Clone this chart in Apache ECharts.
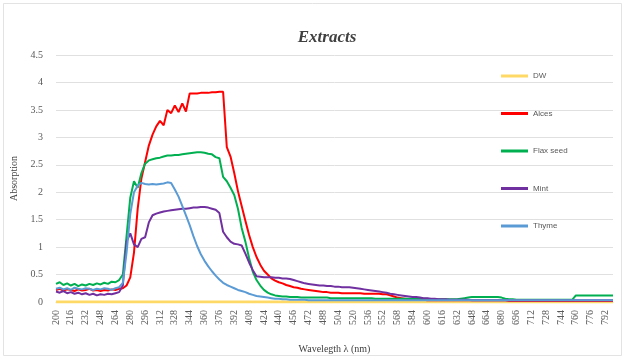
<!DOCTYPE html>
<html><head><meta charset="utf-8">
<script src="https://cdn.jsdelivr.net/npm/echarts@6/dist/echarts.min.js"></script>
<style>html,body{margin:0;padding:0;background:#fff}#c{width:626px;height:360px}</style>
</head><body><div id="c"></div>
<script>
const wavelengths = ["200","204","208","212","216","220","224","228","232","236","240","244","248","252","256","260","264","268","272","276","280","284","288","292","296","300","304","308","312","316","320","324","328","332","336","340","344","348","352","356","360","364","368","372","376","380","384","388","392","396","400","404","408","412","416","420","424","428","432","436","440","444","448","452","456","460","464","468","472","476","480","484","488","492","496","500","504","508","512","516","520","524","528","532","536","540","544","548","552","556","560","564","568","572","576","580","584","588","592","596","600","604","608","612","616","620","624","628","632","636","640","644","648","652","656","660","664","668","672","676","680","684","688","692","696","700","704","708","712","716","720","724","728","732","736","740","744","748","752","756","760","764","768","772","776","780","784","788","792","796","800"];

const seriesNames = ["DW","Alces","Flax seed","Mint","Thyme"];

const dw = [
0,0,0,0,0,0,0,0,0,0,
0,0,0,0,0,0,0,0,0,0,
0,0,0,0,0,0,0,0,0,0,
0,0,0,0,0,0,0,0,0,0,
0,0,0,0,0,0,0,0,0,0,
0,0,0,0,0,0,0,0,0,0,
0,0,0,0,0,0,0,0,0,0,
0,0,0,0,0,0,0,0,0,0,
0,0,0,0,0,0,0,0,0,0,
0,0,0,0,0,0,0,0,0,0,
0,0,0,0,0,0,0,0,0,0,
0,0,0,0,0,0,0,0,0,0,
0,0,0,0,0,0,0,0,0,0,
0,0,0,0,0,0,0,0,0,0,
0,0,0,0,0,0,0,0,0,0,
0];

const alces = [
0.22,0.24,0.21,0.23,0.22,0.20,0.23,0.21,0.22,0.24,
0.21,0.22,0.20,0.22,0.21,0.23,0.22,0.24,0.25,0.30,
0.45,0.90,1.70,2.25,2.55,2.85,3.05,3.20,3.30,3.22,
3.50,3.44,3.58,3.46,3.62,3.47,3.80,3.80,3.80,3.81,
3.81,3.81,3.82,3.82,3.83,3.83,2.82,2.65,2.35,2.02,
1.75,1.48,1.22,1.00,0.82,0.68,0.57,0.50,0.43,0.39,
0.36,0.34,0.31,0.29,0.27,0.26,0.24,0.23,0.22,0.21,
0.20,0.19,0.18,0.18,0.17,0.17,0.17,0.16,0.16,0.16,
0.16,0.16,0.16,0.15,0.15,0.15,0.15,0.15,0.14,0.14,
0.12,0.10,0.08,0.07,0.06,0.05,0.05,0.04,0.04,0.04,
0.03,0.03,0.03,0.03,0.03,0.03,0.03,0.03,0.03,0.03,
0.03,0.03,0.03,0.03,0.03,0.03,0.03,0.03,0.03,0.03,
0.03,0.03,0.02,0.02,0.02,0.02,0.02,0.02,0.02,0.02,
0.02,0.02,0.02,0.02,0.02,0.02,0.02,0.02,0.02,0.02,
0.02,0.02,0.02,0.02,0.02,0.02,0.02,0.02,0.02,0.02,
0.02];

const flaxSeed = [
0.33,0.36,0.31,0.34,0.30,0.33,0.29,0.32,0.30,0.33,
0.31,0.34,0.32,0.35,0.33,0.37,0.36,0.40,0.50,1.20,
1.90,2.20,2.08,2.35,2.52,2.58,2.60,2.62,2.63,2.65,
2.67,2.67,2.68,2.68,2.69,2.70,2.71,2.72,2.73,2.73,
2.72,2.70,2.69,2.64,2.62,2.28,2.20,2.08,1.95,1.70,
1.35,1.10,0.80,0.55,0.40,0.30,0.22,0.17,0.14,0.12,
0.11,0.10,0.10,0.09,0.09,0.09,0.08,0.08,0.08,0.08,
0.08,0.08,0.08,0.08,0.07,0.07,0.07,0.07,0.07,0.07,
0.07,0.07,0.07,0.07,0.07,0.07,0.06,0.06,0.06,0.06,
0.06,0.06,0.06,0.06,0.06,0.06,0.06,0.06,0.06,0.06,
0.06,0.05,0.05,0.05,0.05,0.05,0.05,0.05,0.05,0.06,
0.07,0.08,0.09,0.09,0.09,0.09,0.09,0.09,0.09,0.09,
0.08,0.06,0.05,0.05,0.04,0.04,0.04,0.04,0.04,0.04,
0.04,0.04,0.04,0.04,0.04,0.04,0.04,0.04,0.04,0.04,
0.12,0.12,0.12,0.12,0.12,0.12,0.12,0.12,0.12,0.12,
0.12];

const mint = [
0.19,0.17,0.20,0.16,0.18,0.15,0.17,0.14,0.16,0.13,
0.15,0.12,0.14,0.13,0.15,0.14,0.16,0.18,0.30,1.10,
1.25,1.05,1.00,1.15,1.18,1.45,1.58,1.61,1.63,1.65,
1.66,1.67,1.68,1.69,1.70,1.70,1.71,1.72,1.72,1.73,
1.73,1.72,1.70,1.68,1.62,1.28,1.18,1.10,1.06,1.05,
1.03,0.88,0.72,0.58,0.47,0.46,0.45,0.45,0.45,0.44,
0.44,0.43,0.43,0.42,0.40,0.38,0.36,0.34,0.33,0.32,
0.31,0.30,0.30,0.29,0.29,0.28,0.28,0.27,0.27,0.27,
0.26,0.25,0.24,0.23,0.22,0.21,0.20,0.19,0.18,0.17,
0.15,0.14,0.13,0.12,0.11,0.10,0.09,0.09,0.08,0.07,
0.07,0.06,0.06,0.05,0.05,0.05,0.04,0.04,0.04,0.04,
0.04,0.04,0.03,0.03,0.03,0.03,0.03,0.03,0.03,0.03,
0.03,0.03,0.03,0.03,0.03,0.03,0.03,0.03,0.03,0.03,
0.03,0.03,0.03,0.03,0.03,0.03,0.03,0.03,0.03,0.03,
0.03,0.03,0.03,0.03,0.03,0.03,0.03,0.03,0.03,0.03,
0.03];

const thyme = [
0.24,0.26,0.23,0.25,0.22,0.26,0.24,0.23,0.25,0.24,
0.22,0.24,0.23,0.25,0.24,0.22,0.25,0.27,0.35,0.90,
1.60,2.00,2.12,2.17,2.15,2.14,2.15,2.14,2.15,2.16,
2.18,2.17,2.05,1.92,1.75,1.58,1.40,1.20,1.02,0.87,
0.75,0.65,0.56,0.48,0.41,0.35,0.31,0.28,0.25,0.22,
0.20,0.18,0.15,0.13,0.11,0.10,0.09,0.08,0.07,0.06,
0.06,0.05,0.05,0.04,0.04,0.04,0.04,0.04,0.03,0.03,
0.03,0.03,0.03,0.03,0.03,0.03,0.03,0.03,0.03,0.03,
0.03,0.03,0.03,0.03,0.03,0.03,0.03,0.03,0.03,0.03,
0.03,0.03,0.03,0.03,0.03,0.03,0.03,0.03,0.03,0.03,
0.03,0.03,0.03,0.03,0.03,0.03,0.03,0.03,0.03,0.03,
0.03,0.03,0.03,0.03,0.03,0.03,0.03,0.03,0.03,0.03,
0.03,0.03,0.03,0.03,0.03,0.03,0.03,0.03,0.03,0.03,
0.03,0.03,0.03,0.03,0.03,0.03,0.03,0.03,0.03,0.03,
0.03,0.03,0.03,0.03,0.03,0.03,0.03,0.03,0.03,0.03,
0.03];

const yTicks = ["0","0.5","1","1.5","2","2.5","3","3.5","4","4.5"];
const colors = ["#ffd966","#ff0000","#00b050","#7030a0","#5b9bd5"];
const values = [dw, alces, flaxSeed, mint, thyme];
const widths = [3, 2, 2, 2, 2];

const serif = "Liberation Serif";
const chart = echarts.init(document.getElementById('c'), null, {renderer:'canvas'});
chart.setOption({
  animation:false,
  backgroundColor:'#fff',
  title:{text:'Extracts', left:322, top:24, textAlign:'center',
    textStyle:{fontFamily:serif, fontStyle:'italic', fontWeight:'bold', fontSize:17, color:'#404040'}},
  graphic:[{type:'rect', shape:{x:3.5,y:3.5,width:618,height:352},
    style:{fill:'none', stroke:'#e3e3e3', lineWidth:1}, silent:true}],
  legend:{orient:'vertical', left:496, top:65, itemGap:25.5, itemWidth:27, itemHeight:3,
    icon:'rect', data:seriesNames,
    textStyle:{fontFamily:'Liberation Sans', fontSize:8, color:'#595959', lineHeight:12}},
  grid:{left:56, right:13, top:55, bottom:58},
  xAxis:{type:'category', data:wavelengths, boundaryGap:false,
    name:'Wavelegth λ (nm)', nameLocation:'middle', nameGap:42,
    nameTextStyle:{fontFamily:serif, fontSize:10, color:'#404040'},
    axisLine:{lineStyle:{color:'#d9d9d9'}}, axisTick:{show:false},
    axisLabel:{interval:3, rotate:90, fontFamily:serif, fontSize:10, color:'#595959', margin:8}},
  yAxis:{type:'value', min:0, max:4.5, interval:0.5,
    name:'Absorption', nameLocation:'middle', nameGap:32,
    nameTextStyle:{fontFamily:serif, fontSize:10, color:'#404040'},
    axisLine:{show:false}, axisTick:{show:false},
    splitLine:{lineStyle:{color:'#e0e0e0', width:1}},
    axisLabel:{fontFamily:serif, fontSize:10, color:'#595959', margin:13,
      formatter:(v)=>yTicks[Math.round(v*2)]}},
  series: seriesNames.map((n,i)=>({name:n, type:'line', data:values[i], showSymbol:false,
    symbol:'none', lineStyle:{color:colors[i], width:widths[i]}, itemStyle:{color:colors[i]}}))
});
</script></body></html>
